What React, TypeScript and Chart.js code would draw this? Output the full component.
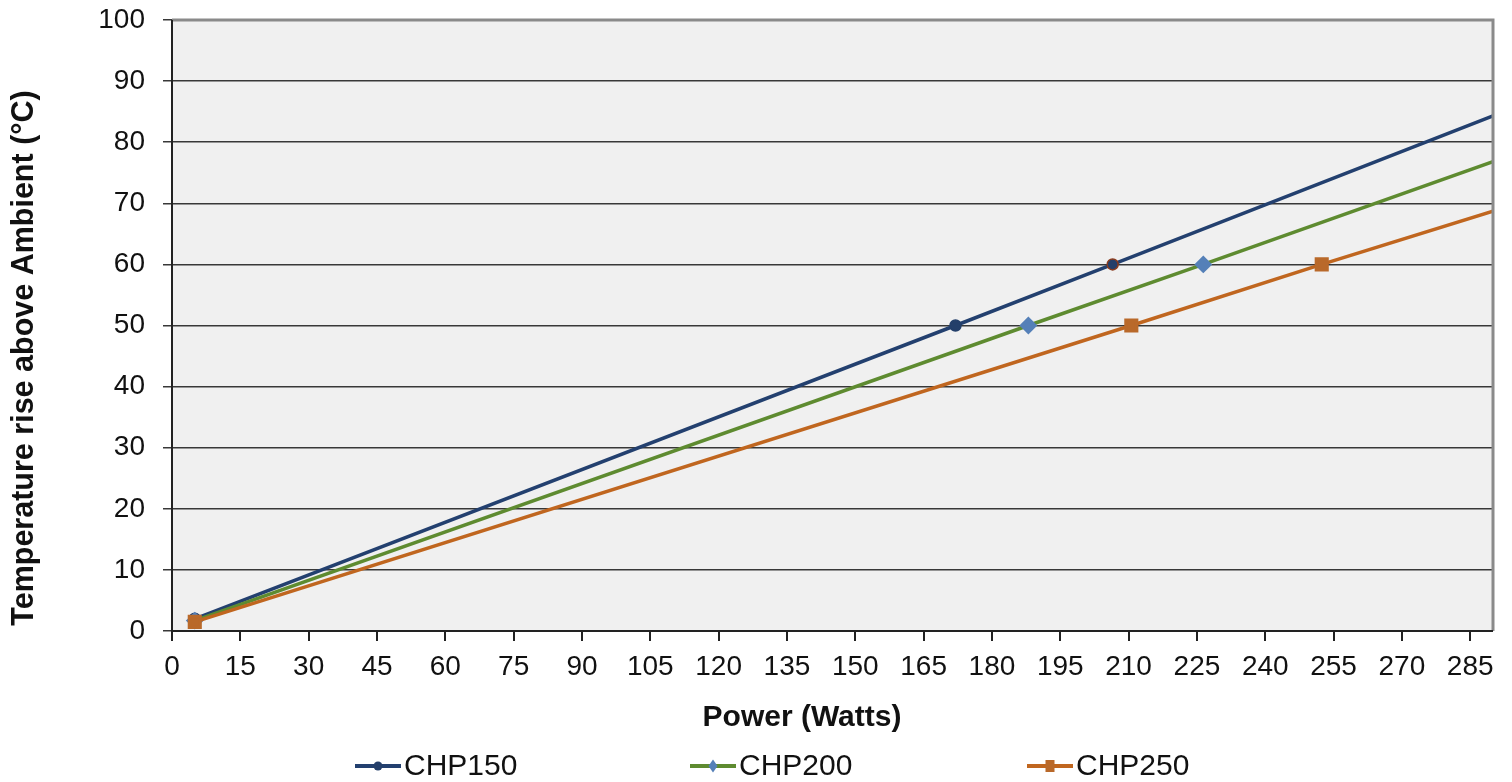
import React, { useEffect, useRef } from "react";
import { Chart, registerables } from "chart.js";

Chart.register(...registerables);

const seriesNames = ["CHP150", "CHP200", "CHP250"];
const powerCHP150 = [5, 172, 206.5, 290];
const tempCHP150 = [2.0, 50, 60, 84.3];
const powerCHP200 = [5, 188, 226.4, 290];
const tempCHP200 = [1.7, 50, 60, 76.8];
const powerCHP250 = [5, 210.6, 252.4, 290];
const tempCHP250 = [1.5, 50, 60, 68.7];
const markerShown = [true, true, true, false];

const xTickValues = [0, 15, 30, 45, 60, 75, 90, 105, 120, 135, 150, 165, 180, 195, 210, 225, 240, 255, 270, 285];
const xTitle = "Power (Watts)";
const yTitle = "Temperature rise above Ambient (°C)";

const FONT = "'Liberation Sans', Arial, Helvetica, sans-serif";

const colors = {
  chp150: "#23406F",
  chp150Marker: "#243F6A",
  chp200: "#5E8B30",
  chp200Marker: "#5580B8",
  chp250: "#C0661F",
  chp250Marker: "#B9692A",
};

function pts(xs: number[], ys: number[]) {
  return xs.map((x, i) => ({ x, y: ys[i] }));
}

const bgPlugin = {
  id: "plotBg",
  beforeDraw(chart: any) {
    const { ctx, chartArea } = chart;
    ctx.save();
    ctx.fillStyle = "#f0f0f0";
    ctx.fillRect(chartArea.left, chartArea.top, chartArea.right - chartArea.left, chartArea.bottom - chartArea.top);
    ctx.restore();
  },
  afterDraw(chart: any) {
    const { ctx, chartArea } = chart;
    ctx.save();
    ctx.strokeStyle = "#8a8a8a";
    ctx.lineWidth = 3;
    ctx.beginPath();
    ctx.moveTo(chartArea.left, chartArea.top);
    ctx.lineTo(chartArea.right, chartArea.top);
    ctx.lineTo(chartArea.right, chartArea.bottom);
    ctx.stroke();
    ctx.strokeStyle = "#222";
    ctx.lineWidth = 2;
    ctx.beginPath();
    ctx.moveTo(chartArea.left, chartArea.top);
    ctx.lineTo(chartArea.left, chartArea.bottom);
    ctx.lineTo(chartArea.right, chartArea.bottom);
    ctx.stroke();

    // axis titles
    ctx.fillStyle = "#111";
    ctx.font = `bold 30px ${FONT}`;
    ctx.textAlign = "center";
    ctx.textBaseline = "middle";
    ctx.fillText(xTitle, 802, 718);
    ctx.save();
    ctx.translate(25, 358);
    ctx.rotate(-Math.PI / 2);
    ctx.font = `bold 30.5px ${FONT}`;
    ctx.fillText(yTitle, 0, 0);
    ctx.restore();

    // legend
    const items = [
      { name: seriesNames[0], line: colors.chp150, marker: colors.chp150Marker, style: "circle" },
      { name: seriesNames[1], line: colors.chp200, marker: colors.chp200Marker, style: "diamond" },
      { name: seriesNames[2], line: colors.chp250, marker: colors.chp250Marker, style: "square" },
    ];
    const starts = [355, 690, 1027];
    const cy = 766;
    ctx.font = `30px ${FONT}`;
    ctx.textBaseline = "middle";
    ctx.textAlign = "left";
    items.forEach((it, i) => {
      const x0 = starts[i];
      ctx.strokeStyle = it.line;
      ctx.lineWidth = 4;
      ctx.beginPath();
      ctx.moveTo(x0, cy);
      ctx.lineTo(x0 + 46, cy);
      ctx.stroke();
      const mx = x0 + 23;
      ctx.fillStyle = it.marker;
      ctx.beginPath();
      if (it.style === "circle") {
        ctx.arc(mx, cy, 4.5, 0, Math.PI * 2);
        ctx.fill();
      } else if (it.style === "diamond") {
        ctx.moveTo(mx, cy - 6.5);
        ctx.lineTo(mx + 4.5, cy);
        ctx.lineTo(mx, cy + 6.5);
        ctx.lineTo(mx - 4.5, cy);
        ctx.closePath();
        ctx.fill();
      } else {
        ctx.fillRect(mx - 4.5, cy - 6, 9, 12);
      }
      ctx.fillStyle = "#111";
      ctx.fillText(it.name, x0 + 49, cy + 1);
    });
    ctx.restore();
  },
};

export default function App() {
  const ref = useRef<HTMLCanvasElement>(null);
  useEffect(() => {
    if (!ref.current) return;
    const chart = new Chart(ref.current, {
      type: "line",
      data: {
        datasets: [
          {
            label: seriesNames[0],
            data: pts(powerCHP150, tempCHP150),
            order: 2,
            borderColor: colors.chp150,
            backgroundColor: colors.chp150Marker,
            borderWidth: 3.5,
            pointStyle: "circle",
            pointRadius: markerShown.map((s) => (s ? 5.5 : 0)),
            pointBorderWidth: 1.5,
            pointBorderColor: [colors.chp150Marker, colors.chp150Marker, "#8A3B1E", colors.chp150Marker],
            pointBackgroundColor: colors.chp150Marker,
            tension: 0,
          },
          {
            label: seriesNames[1],
            data: pts(powerCHP200, tempCHP200),
            order: 1,
            borderColor: colors.chp200,
            backgroundColor: colors.chp200Marker,
            borderWidth: 3.5,
            pointStyle: "rectRot",
            pointRadius: markerShown.map((s) => (s ? 6.5 : 0)),
            pointBorderColor: colors.chp200Marker,
            pointBackgroundColor: colors.chp200Marker,
            tension: 0,
          },
          {
            label: seriesNames[2],
            data: pts(powerCHP250, tempCHP250),
            order: 0,
            borderColor: colors.chp250,
            backgroundColor: colors.chp250Marker,
            borderWidth: 3.5,
            pointStyle: "rect",
            pointRadius: markerShown.map((s) => (s ? 7.5 : 0)),
            pointBorderColor: colors.chp250Marker,
            pointBackgroundColor: colors.chp250Marker,
            tension: 0,
          },
        ],
      },
      options: {
        animation: false,
        responsive: true,
        maintainAspectRatio: false,
        parsing: false as any,
        layout: { padding: { left: 0, right: 19, top: 20, bottom: 40 } },
        plugins: {
          legend: { display: false },
          tooltip: { enabled: false },
        },
        scales: {
          x: {
            type: "linear",
            min: 0,
            max: 290,
            afterBuildTicks(scale: any) {
              scale.ticks = xTickValues.map((v) => ({ value: v }));
            },
            afterFit(scale: any) {
              scale.height = 111;
              scale.paddingLeft = 0;
              scale.paddingRight = 0;
            },
            border: { display: false },
            grid: {
              drawOnChartArea: false,
              drawTicks: true,
              tickLength: 10,
              color: "#222",
              lineWidth: 2,
            },
            ticks: {
              color: "#111",
              font: { family: FONT, size: 28 },
              padding: 9,
              maxRotation: 0,
              autoSkip: false,
            },
            title: { display: false },
          },
          y: {
            type: "linear",
            min: 0,
            max: 100,
            afterFit(scale: any) {
              scale.width = 172;
              scale.paddingTop = 0;
              scale.paddingBottom = 0;
            },
            border: { display: false },
            grid: {
              color: "#383838",
              lineWidth: 1.5,
              drawTicks: true,
              tickLength: 9,
            },
            ticks: {
              stepSize: 10,
              color: "#111",
              font: { family: FONT, size: 28 },
              padding: 18,
            },
            title: { display: false },
          },
        },
      },
      plugins: [bgPlugin],
    });
    return () => chart.destroy();
  }, []);
  return (
    <div style={{ position: "fixed", left: 0, top: 0, width: 1512, height: 782, background: "#fff" }}>
      <canvas ref={ref} />
    </div>
  );
}
